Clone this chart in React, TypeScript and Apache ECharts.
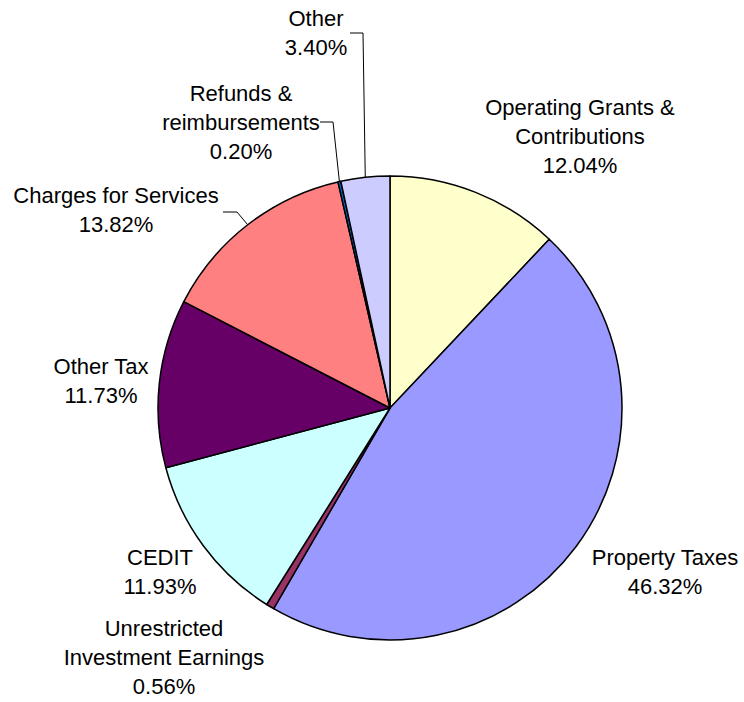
import React, { useEffect, useRef } from "react";
import * as echarts from "echarts";

const categories = [
  "Operating Grants & Contributions",
  "Property Taxes",
  "Unrestricted Investment Earnings",
  "CEDIT",
  "Other Tax",
  "Charges for Services",
  "Refunds & reimbursements",
  "Other",
];
const displayLabels = [
  "Operating Grants &\nContributions",
  "Property Taxes",
  "Unrestricted\nInvestment Earnings",
  "CEDIT",
  "Other Tax",
  "Charges for Services",
  "Refunds &\nreimbursements",
  "Other",
];
const values = [12.04, 46.32, 0.56, 11.93, 11.73, 13.82, 0.2, 3.4];
const colors = ["#FFFFCC", "#9999FF", "#993366", "#CCFFFF", "#660066", "#FF8080", "#0066CC", "#CCCCFF"];

// label block centres (layout)
const labelPos: [number, number][] = [
  [580, 136],
  [665, 572],
  [164, 657],
  [160, 572],
  [101, 381],
  [116, 210],
  [241, 122],
  [316, 33],
];
// leader line elbows / ends (null = no leader)
const leaderPts: ([number, number][] | null)[] = [
  null,
  null,
  null,
  null,
  null,
  [[237, 212], [223, 212]],
  [[333, 122], [320, 122]],
  [[363, 33], [350, 33]],
];

export default function App() {
  const ref = useRef<HTMLDivElement>(null);
  useEffect(() => {
    if (!ref.current) return;
    const chart = echarts.init(ref.current, null, { renderer: "svg" });
    chart.setOption({
      animation: false,
      backgroundColor: "#FFFFFF",
      series: [
        {
          type: "pie",
          center: [390, 408],
          radius: 232,
          startAngle: 90,
          clockwise: true,
          percentPrecision: 2,
          avoidLabelOverlap: false,
          itemStyle: { borderColor: "#000000", borderWidth: 1.5 },
          label: {
            show: true,
            position: "outside",
            fontFamily: "Liberation Sans, Arial, sans-serif",
            fontSize: 22,
            lineHeight: 29,
            color: "#000000",
            align: "center",
            formatter: (p: any) => `${displayLabels[p.dataIndex]}\n${values[p.dataIndex].toFixed(2)}%`,
          },
          labelLine: { show: true, lineStyle: { color: "#000000", width: 1 } },
          emphasis: { disabled: true },
          labelLayout: (params: any) => {
            const i = params.dataIndex;
            const res: any = {
              x: labelPos[i][0],
              y: labelPos[i][1],
              align: "center",
              verticalAlign: "middle",
            };
            const lp = leaderPts[i];
            if (lp && params.labelLinePoints && params.labelLinePoints[0]) {
              const s = params.labelLinePoints[0];
              res.labelLinePoints = [[s[0], s[1]], lp[0], lp[1]];
            }
            return res;
          },
          data: categories.map((name, i) => ({
            name,
            value: values[i],
            itemStyle: { color: colors[i] },
            labelLine: { show: leaderPts[i] !== null },
          })),
        },
      ],
    });
    return () => chart.dispose();
  }, []);
  return (
    <div
      ref={ref}
      style={{ position: "fixed", left: 0, top: 0, width: 744, height: 702 }}
    />
  );
}
